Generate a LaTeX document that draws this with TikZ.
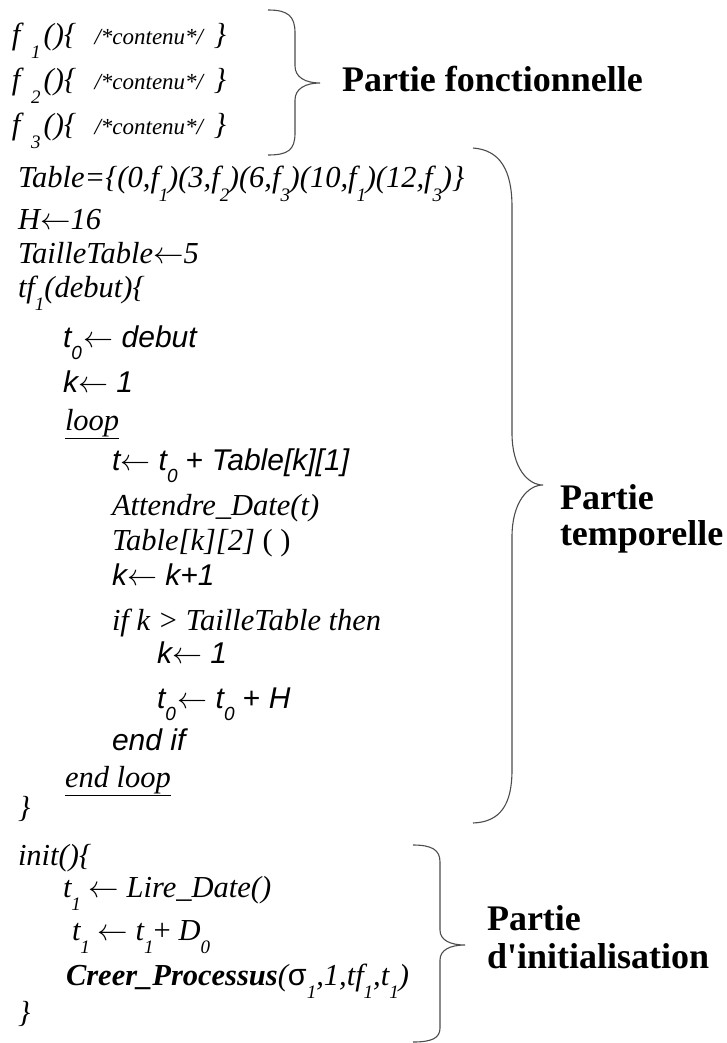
\documentclass[tikz,border=0pt]{standalone}
\usepackage{fontspec}
\usepackage{graphicx}
\setmainfont{Liberation Serif}
\newfontfamily\arialf{Liberation Sans}
\newfontfamily\lbfont{Liberation Serif}
\newcommand\Tm{\fontsize{30.5}{34}\selectfont\itshape}
\newcommand\Ar{\arialf\fontsize{30}{34}\selectfont\itshape}
\newcommand\Lb{\lbfont\fontsize{36}{40}\selectfont\bfseries}
\newcommand\la{\resizebox{1em}{!}{$\leftarrow$}}
\newcommand\ts[1]{\raisebox{-0.43em}{\fontsize{19}{19}\selectfont #1}}
\newcommand\tsn[1]{\makebox[0.3em][l]{\ts{#1}}}
\tikzset{
  ln/.style={anchor=base west, inner sep=0pt, outer sep=0pt},
  brace/.style={draw=black!70, line width=1.1pt},
}
\begin{document}
\begin{tikzpicture}[x=1pt,y=-1pt]
\useasboundingbox (0,0) rectangle (726,1043);
% functional part
\node[ln] (f1) at (12,45) {\Tm f\hspace{0.35em}\ts{1}\hspace{0.1em}()\{\hspace{0.6em}{\fontsize{23}{25}\selectfont /*contenu*/}\hspace{0.35em}\}};
\node[ln] (f2) at (12,90) {\Tm f\hspace{0.35em}\ts{2}\hspace{0.1em}()\{\hspace{0.6em}{\fontsize{23}{25}\selectfont /*contenu*/}\hspace{0.35em}\}};
\node[ln] (f3) at (12,135) {\Tm f\hspace{0.35em}\ts{3}\hspace{0.1em}()\{\hspace{0.6em}{\fontsize{23}{25}\selectfont /*contenu*/}\hspace{0.35em}\}};
% temporal part
\node[ln] (tab) at (18,188) {\Tm Table=\{(0,f\tsn{1})(3,f\tsn{2})(6,f\tsn{3})(10,f\tsn{1})(12,f\tsn{3})\}};
\node[ln] (h) at (18,229) {\Tm H\la 16};
\node[ln] (tt) at (18,263) {\Tm TailleTable\la 5};
\node[ln] (tf) at (18,297) {\Tm tf\ts{1}(debut)\{};
\node[ln] (t0) at (63,347) {\Ar t\makebox[0.4em][l]{\ts{0}}\la\ debut};
\node[ln] (k1) at (63,392) {\Ar k\la\ 1};
\node[ln] (loop) at (65,430) {\Tm \underline{loop}};
\node[ln] (t) at (112,470) {\Ar t\la\ t\ts{0} {\upshape +} Table[k][1]};
\node[ln] (att) at (112,515) {\Tm Attendre\_Date(t)};
\node[ln] (tk2) at (112,550) {\Tm Table[k][2] {\upshape ( )}};
\node[ln] (kk) at (112,585) {\Ar k\la\ k+1};
\node[ln] (if) at (112,630) {\Tm if k > TailleTable then};
\node[ln] (k2) at (157,663) {\Ar k\la\ 1};
\node[ln] (t0h) at (157,708) {\Ar t\makebox[0.4em][l]{\ts{0}}\la\ t\ts{0} {\upshape +} H};
\node[ln] (endif) at (112,750) {\Ar end if};
\node[ln] (endloop) at (65,787) {\Tm \underline{end loop}};
\node[ln] (cl1) at (18,817) {\Tm \}};
% init part
\node[ln] (init) at (18,865) {\Tm init()\{};
\node[ln] (t1a) at (63,897) {\Tm t\ts{1} \la\ Lire\_Date()};
\node[ln] (t1b) at (72,940) {\Tm t\ts{1} \la\ t\ts{1}{\upshape +} D\ts{0}};
\node[ln] (cp) at (66,985) {\Tm {\bfseries Creer\_Processus}({\arialf\upshape σ}\ts{1},1,tf\ts{1},t\ts{1})};
\node[ln] (cl2) at (18,1022) {\Tm \}};
% braces
\coordinate (b1) at (320,83);
\draw[brace] (268,10) .. controls (288,10) and (295,16) .. (295,33) -- (295,66)
  .. controls (295,77) and (305,83) .. (b1)
  .. controls (305,83) and (295,89) .. (295,100) -- (295,133)
  .. controls (295,150) and (288,155) .. (268,155);
\node[ln] (lab1) at (342,92) {\Lb Partie fonctionnelle};
\coordinate (b2) at (543,485);
\draw[brace] (473,148) .. controls (500,150) and (512,170) .. (512,207) -- (512,433)
  .. controls (512,468) and (528,485) .. (b2)
  .. controls (528,485) and (512,502) .. (512,537) -- (512,770)
  .. controls (512,805) and (500,822) .. (473,823);
\node[ln] (lab2a) at (560,509) {\Lb Partie};
\node[ln] (lab2b) at (560,545) {\Lb temporelle};
\coordinate (b3) at (465,945);
\draw[brace] (413,845) .. controls (432,845) and (440,850) .. (440,862) -- (440,930)
  .. controls (440,940) and (450,945) .. (b3)
  .. controls (450,945) and (440,950) .. (440,960) -- (440,1028)
  .. controls (440,1038) and (432,1042) .. (413,1042);
\node[ln] (lab3a) at (487,930) {\Lb Partie};
\node[ln] (lab3b) at (487,968) {\Lb d'initialisation};
\end{tikzpicture}
\end{document}
